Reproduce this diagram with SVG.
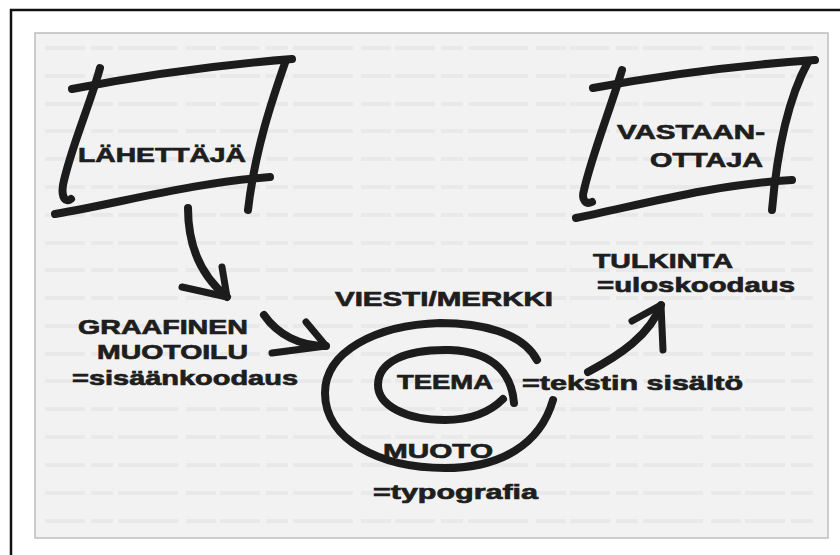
<svg xmlns="http://www.w3.org/2000/svg" width="840" height="555" viewBox="0 0 840 555">
<defs>
<style>
.ink{fill:none;stroke:#1c1c1c;stroke-width:8;stroke-linecap:round;stroke-linejoin:round}
.thin{stroke-width:7}
.t{font-family:"Liberation Sans",Arial,sans-serif;font-weight:bold;font-size:21px;fill:#1e1e1e;stroke:#1e1e1e;stroke-width:0.7}
.bg{fill:none;stroke:#e9e9e9;stroke-width:4;stroke-dasharray:40 6 22 5 60 8 30 4}
</style>
</defs>
<rect x="0" y="0" width="840" height="555" fill="#ffffff"/>
<path d="M11 555 V10 H840" fill="none" stroke="#111" stroke-width="2.5"/>
<rect x="35" y="33" width="793" height="505" fill="#f2f2f2" stroke="#bdbdbd" stroke-width="1.5"/>
<g id="bleed">
<path class="bg" d="M45 48 H815 M45 76 H815 M45 104 H815 M45 131 H815 M45 159 H815 M45 187 H815 M45 215 H815 M45 243 H815 M45 270 H815 M45 298 H815 M45 326 H815 M45 354 H815 M45 381 H815 M45 409 H815 M45 437 H815 M45 465 H815 M45 493 H815 M45 521 H815"/>
</g>
<g id="lahettaja">
<path class="ink" d="M72 89 Q180 68 292 59"/>
<path class="ink" d="M100 68 C90 105 70 150 63 185 C61 198 66 203 71 199"/>
<path class="ink" d="M286 60 C272 100 255 150 248 210"/>
<path class="ink" d="M55 214 C120 203 190 183 270 177"/>
<text class="t" x="78" y="162" textLength="168" lengthAdjust="spacingAndGlyphs">LÄHETTÄJÄ</text>
</g>
<g id="vastaanottaja">
<path class="ink" d="M593 88 Q700 68 815 60"/>
<path class="ink" d="M622 70 C610 110 592 155 584 190 C581 200 586 205 592 202"/>
<path class="ink" d="M808 62 C790 95 778 140 772 210"/>
<path class="ink" d="M576 218 C640 205 710 185 792 180"/>
<text class="t" x="617" y="139" textLength="148" lengthAdjust="spacingAndGlyphs">VASTAAN-</text>
<text class="t" x="650" y="167" textLength="113" lengthAdjust="spacingAndGlyphs">OTTAJA</text>
</g>
<g id="tulkinta">
<text class="t" x="593" y="268" textLength="140" lengthAdjust="spacingAndGlyphs">TULKINTA</text>
<text class="t" x="597" y="292" textLength="198" lengthAdjust="spacingAndGlyphs">=uloskoodaus</text>
</g>
<g id="graafinen">
<text class="t" x="78" y="334" textLength="170" lengthAdjust="spacingAndGlyphs">GRAAFINEN</text>
<text class="t" x="97" y="359" textLength="151" lengthAdjust="spacingAndGlyphs">MUOTOILU</text>
<text class="t" x="72" y="385" textLength="226" lengthAdjust="spacingAndGlyphs">=sisäänkoodaus</text>
</g>
<g id="viesti">
<text class="t" x="335" y="306" textLength="218" lengthAdjust="spacingAndGlyphs">VIESTI/MERKKI</text>
<path class="ink" d="M537 360 C522 332 480 323 440 323 C375 325 325 352 325 393 C325 440 380 468 445 468 C500 468 540 445 553 400"/>
<path class="ink" d="M514 403 C512 378 498 352 450 350 C405 349 378 362 378 385 C378 405 405 420 445 420 C470 420 490 412 503 399"/>
<text class="t" x="397" y="389" textLength="96" lengthAdjust="spacingAndGlyphs">TEEMA</text>
<text class="t" x="383" y="458" textLength="110" lengthAdjust="spacingAndGlyphs">MUOTO</text>
<text class="t" x="373" y="499" textLength="165" lengthAdjust="spacingAndGlyphs">=typografia</text>
<text class="t" x="522" y="390" textLength="221" lengthAdjust="spacingAndGlyphs">=tekstin sisältö</text>
</g>
<g id="connectors">
<path class="ink" d="M188 208 C188 245 200 275 227 297"/>
<path class="ink thin" d="M182 287 L227 297 L222 267"/>
<path class="ink" d="M264 315 C278 335 300 346 326 346"/>
<path class="ink thin" d="M306 322 L326 346 L272 353"/>
<path class="ink" d="M588 372 C620 355 650 335 661 305"/>
<path class="ink thin" d="M632 321 L661 305 L663 350"/>
</g>
</svg>
